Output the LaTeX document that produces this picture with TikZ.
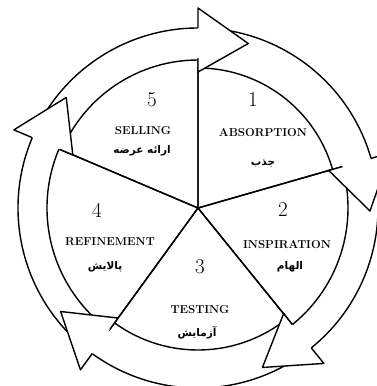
\documentclass[tikz,border=0pt]{standalone}
\usepackage{fontspec}
\newfontfamily\farsi[Script=Arabic]{DejaVu Sans}
\TeXXeTstate=1
\tikzset{
  line/.style={line width=1.4pt, line join=round},
  num/.style={font=\fontsize{21}{21}\selectfont},
  stage/.style={font=\bfseries\fontsize{11.5}{12}\selectfont\addfontfeature{LetterSpace=3}},
  fa/.style={font=\farsi\bfseries\fontsize{10.5}{11}\selectfont}
}
\begin{document}
\begin{tikzpicture}[x=1pt,y=1pt]
  \useasboundingbox (-198,-178) rectangle (179,208);
  % pie of five stages
  \foreach \a/\b/\r in {90/157/148, 16/90/140, -51/16/150, -126/-51/142, -203/-126/151}
    \draw[line] (0,0) -- (\a:\r) arc[start angle=\a, end angle=\b, radius=\r] -- cycle;
  % ring of arrows, clockwise
  \foreach \a/\b in {153/90, 86/16, 12/-51, -55/-126, -130/-203}
    \draw[line] (\a:180) arc[start angle=\a, end angle=\b, radius=180];
  \foreach \b in {90,16,-51,-126,-203} {
    \pgfmathsetmacro{\t}{\b-17}
    \fill[white] (\b:136) -- (\b:200) -- (\t:172) -- cycle;
    \draw[line] (\b:180) -- (\b:200) -- (\t:172) -- (\b:136) -- (\b:150);
  }
  \node[num] (n1) at (55,108) {1};
  \node[stage] (s1) at (65,75) {ABSORPTION};
  \node[fa] (f1) at (65,45) {\beginR جذب\endR};
  \node[num] (n2) at (85,-2) {2};
  \node[stage] (s2) at (89,-37) {INSPIRATION};
  \node[fa] (f2) at (92,-59) {\beginR الهام\endR};
  \node[num] (n3) at (2,-59) {3};
  \node[stage] (s3) at (2,-102) {TESTING};
  \node[fa] (f3) at (-1,-125) {\beginR آزمایش\endR};
  \node[num] (n4) at (-101,-2) {4};
  \node[stage] (s4) at (-88,-34) {REFINEMENT};
  \node[fa] (f4) at (-93,-59) {\beginR پالایش\endR};
  \node[num] (n5) at (-46,108) {5};
  \node[stage] (s5) at (-55,77) {SELLING};
  \node[fa] (f5) at (-56,57) {\beginR ارائه عرضه\endR};
\end{tikzpicture}
\end{document}
